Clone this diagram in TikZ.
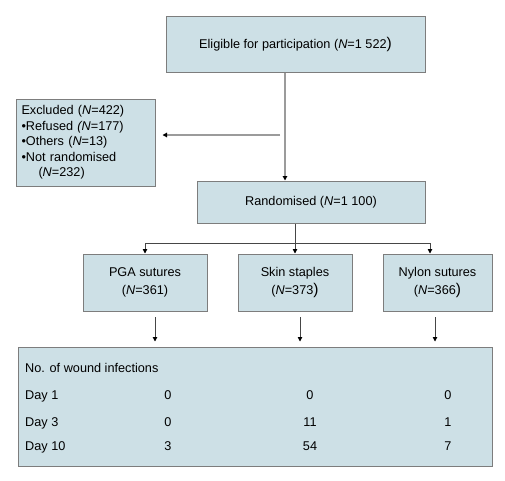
\documentclass[tikz,border=0pt]{standalone}
\usepackage{fontspec}
\setmainfont{Liberation Sans}
\usetikzlibrary{arrows.meta,calc}
\definecolor{boxfill}{RGB}{205,224,230}
\definecolor{boxline}{RGB}{125,125,125}
\definecolor{conn}{RGB}{155,155,155}
\definecolor{conndark}{RGB}{70,70,70}
\newcommand{\bigp}{{\fontsize{15.5}{15.5}\selectfont )}}
\begin{document}
\begin{tikzpicture}[x=1pt,y=-1pt,
  box/.style={draw=boxline,fill=boxfill,line width=1pt,inner sep=0pt},
  tipped/.style={-{Triangle[length=4.5pt,width=4.5pt,color=black]}},
  light/.style={draw=conn,line width=1.4pt},
  dark/.style={draw=conndark,line width=0.9pt},
  font=\fontsize{12.7}{15}\selectfont]
\useasboundingbox (0,0) rectangle (505,480);

\node[box,minimum width=259pt,minimum height=56pt] (elig) at (295.5,44)
  {Eligible for participation (\textit{N}=1 522\bigp};
\node[box,minimum width=139pt,minimum height=87pt,text width=128pt,align=left,
  font=\fontsize{12.7}{15.5}\selectfont] (excl) at (85.5,142.5)
  {Excluded (\textit{N}=422)\\
   •Refused \textit{(N}=177)\\
   •Others (\textit{N}=13)\\
   •Not randomised\\
   \hspace*{17pt}(\textit{N}=232)};
\node[box,minimum width=228pt,minimum height=42pt] (rand) at (311,202)
  {Randomised (\textit{N}=1 100)};
\node[box,minimum width=124pt,minimum height=57pt,align=center,
  font=\fontsize{12.7}{18}\selectfont] (pga) at (145,282.5)
  {PGA sutures\\(\textit{N}=361)};
\node[box,minimum width=114pt,minimum height=57pt,align=center,
  font=\fontsize{12.7}{18}\selectfont] (skin) at (295,282.5)
  {Skin staples\\(\textit{N}=373\bigp};
\node[box,minimum width=109pt,minimum height=57pt,align=center,
  font=\fontsize{12.7}{18}\selectfont] (nylon) at (437.5,282.5)
  {Nylon sutures\\(\textit{N}=366\bigp};
\node[box,minimum width=474pt,minimum height=119pt] (tab) at (255,406.5) {};

\node[anchor=base west,inner sep=0pt] (t0) at (25,372.5) {No. of wound infections};
\node[anchor=base west,inner sep=0pt] (t1) at (25,399.5) {Day 1};
\node[anchor=base west,inner sep=0pt] (t2) at (25,426.5) {Day 3};
\node[anchor=base west,inner sep=0pt] (t3) at (25,450.5) {Day 10};
\node[anchor=base,inner sep=0pt] (p1) at (168,399.5) {0};
\node[anchor=base,inner sep=0pt] (p2) at (168,426.5) {0};
\node[anchor=base,inner sep=0pt] (p3) at (168,450.5) {3};
\node[anchor=base,inner sep=0pt] (s1) at (310,399.5) {0};
\node[anchor=base,inner sep=0pt] (s2) at (310,426.5) {11};
\node[anchor=base,inner sep=0pt] (s3) at (310,450.5) {54};
\node[anchor=base,inner sep=0pt] (n1) at (448,399.5) {0};
\node[anchor=base,inner sep=0pt] (n2) at (448,426.5) {1};
\node[anchor=base,inner sep=0pt] (n3) at (448,450.5) {7};

% connectors
\coordinate (vx) at (285,0);
\draw[light,tipped] (elig.south -| vx) -- (rand.north -| vx);
\coordinate (hs) at (280,135);
\draw[light,tipped] (hs) -- ($(hs -| excl.east)+(7,0)$);

\coordinate (split) at (295,243);
\coordinate (bl) at (145,243);
\coordinate (br) at (430,243);
\draw[dark] (rand.south -| split) -- (split);
\draw[dark,tipped] (bl) -- (bl |- pga.north);
\draw[dark,tipped] (split) -- (split |- skin.north);
\draw[dark,tipped] (br) -- (br |- nylon.north);
\draw[dark] (bl) -- (br);

\coordinate (a1) at (155,317);
\coordinate (a2) at (300,317);
\coordinate (a3) at (435,317);
\draw[dark,tipped] (a1) -- ($(a1 |- tab.north)+(0,-5)$);
\draw[dark,tipped] (a2) -- ($(a2 |- tab.north)+(0,-5)$);
\draw[dark,tipped] (a3) -- ($(a3 |- tab.north)+(0,-5)$);
\end{tikzpicture}
\end{document}
